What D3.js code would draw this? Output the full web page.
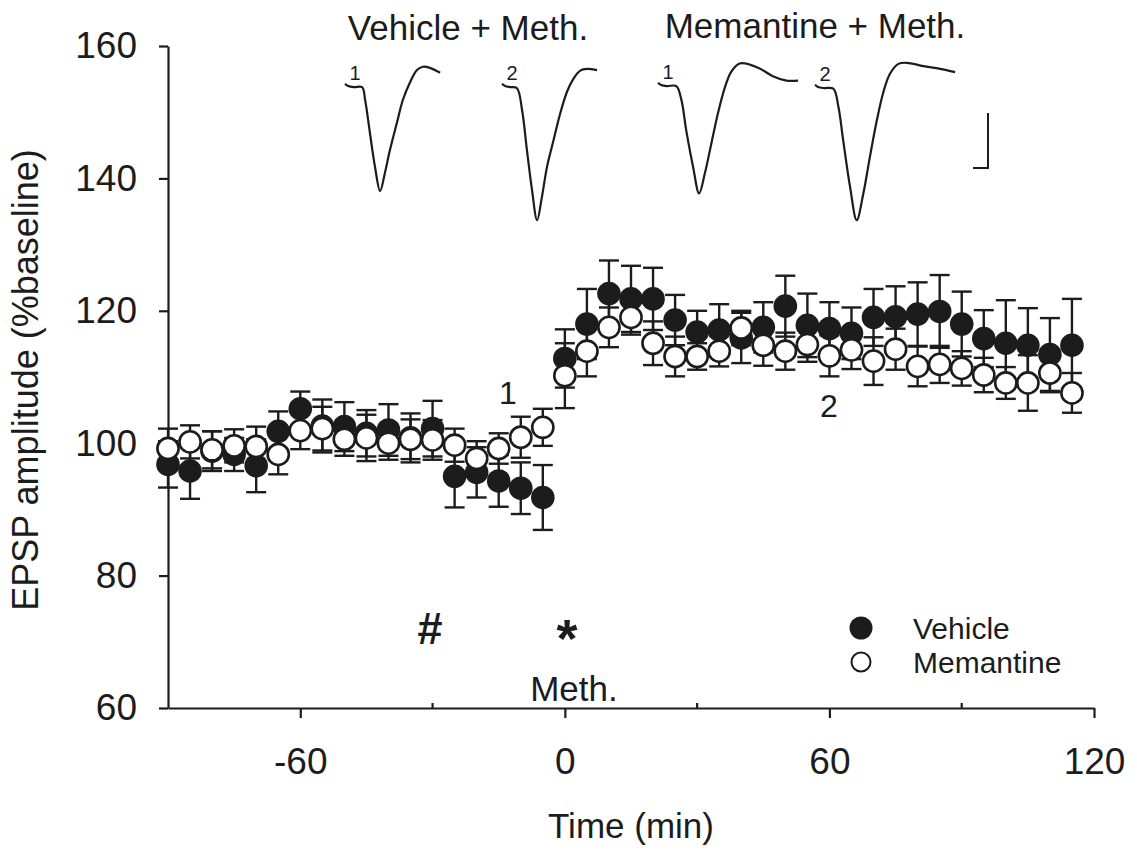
<!DOCTYPE html>
<html>
<head>
<meta charset="utf-8">
<script src="https://cdn.jsdelivr.net/npm/d3@7"></script>
<style>
  html, body { margin: 0; padding: 0; background: #fff; }
  svg { display: block; }
  text { font-family: "Liberation Sans", Arial, sans-serif; fill: #1c1c1c; }
</style>
</head>
<body>
<svg id="chart" width="1137" height="852"></svg>
<script>
// time points (min)
const times = [-90, -85, -80, -75, -70, -65, -60, -55, -50, -45, -40, -35, -30, -25, -20, -15, -10, -5,
  0, 5, 10, 15, 20, 25, 30, 35, 40, 45, 50, 55, 60, 65, 70, 75, 80, 85, 90, 95, 100, 105, 110, 115];

const vehicleMean = [96.8, 95.8, 98.8, 98.3, 96.6, 101.8, 105.2, 102.6, 102.5, 101.5, 102.0, 100.8, 102.2, 95.0, 95.6, 94.3, 93.2, 91.8,
  112.8, 118.0, 122.6, 121.8, 121.8, 118.6, 116.8, 117.1, 115.9, 117.5, 120.7, 117.8, 117.3, 116.6, 119.0, 119.1, 119.5, 119.9, 118.0, 115.8, 115.1, 114.8, 113.4, 114.8];
const vehicleSem = [3.5, 4.2, 3.0, 2.5, 4.0, 3.0, 2.6, 4.0, 3.7, 3.5, 3.9, 3.7, 4.2, 4.7, 3.8, 3.9, 3.9, 4.9,
  4.4, 5.3, 5.0, 5.0, 4.7, 3.8, 3.2, 3.9, 3.8, 3.8, 4.6, 4.8, 4.0, 3.9, 4.3, 4.6, 4.8, 5.5, 4.9, 4.3, 6.5, 5.6, 5.5, 7.0];

const memantineMean = [99.2, 100.2, 99.0, 99.6, 99.5, 98.3, 101.9, 102.2, 100.6, 100.8, 100.0, 100.6, 100.5, 99.7, 97.7, 99.2, 100.9, 102.4,
  110.2, 113.9, 117.5, 119.0, 115.1, 113.1, 113.1, 113.9, 117.4, 114.8, 113.9, 114.9, 113.2, 114.1, 112.4, 114.2, 111.6, 111.9, 111.3, 110.3, 109.1, 109.1, 110.6, 107.6];
const memantineSem = [3.0, 2.5, 2.8, 2.5, 3.0, 3.0, 2.8, 3.3, 2.5, 3.5, 2.5, 3.0, 3.0, 2.5, 2.6, 2.3, 3.1, 2.8,
  4.9, 3.8, 3.0, 2.6, 3.3, 3.0, 2.0, 2.3, 2.6, 3.1, 2.8, 2.6, 3.1, 2.9, 3.6, 3.1, 3.0, 2.8, 2.6, 2.6, 2.4, 4.2, 2.9, 3.0];

const yTicks = [60, 80, 100, 120, 140, 160];
const xMajorTicks = [-60, 0, 60, 120];
const xMinorTicks = [-30, 30, 90];

// inset EPSP traces, [ms, mV]
const traceVeh1 = [[0, 0.04], [1, 0], [3, -0.02], [5.7, -0.02], [6.7, -0.25], [8.3, -0.85], [10, -1.47], [11.7, -1.91], [13.3, -1.58],
  [15, -1.16], [17.3, -0.67], [19.3, -0.25], [21.7, 0.07], [24, 0.29], [26, 0.35], [28.3, 0.33], [31.7, 0.24]];
const traceVeh2 = [[0, 0.04], [1, 0], [3, -0.02], [5, -0.04], [6.7, -0.44], [8.3, -1.16], [10, -1.89], [11.7, -2.44], [13.3, -2.02],
  [15, -1.47], [17.2, -0.98], [19.4, -0.5], [21.7, -0.1], [23.9, 0.14], [26.1, 0.28], [28.3, 0.31], [31.7, 0.29]];
const traceMem1 = [[0, 0.04], [1, 0], [3, -0.02], [6.1, -0.02], [7.8, -0.27], [9.4, -0.82], [11.7, -1.49], [13.7, -1.97], [15.6, -1.61],
  [17.8, -1.06], [20, -0.51], [22.2, -0.06], [24.4, 0.24], [27.2, 0.39], [29.4, 0.39], [33.9, 0.3], [38.3, 0.16], [42.8, 0.08], [46.7, 0.08]];
const traceMem2 = [[0, 0.04], [1, 0], [3, -0.02], [6.1, -0.03], [7.8, -0.36], [9.4, -0.97], [11.7, -1.82], [13.9, -2.42], [16.1, -1.94],
  [18.3, -1.27], [20.6, -0.61], [22.8, -0.09], [25, 0.24], [27.8, 0.42], [30.6, 0.44], [36.1, 0.38], [41.7, 0.33], [46.7, 0.27]];
const traceLabels = ["1", "2", "1", "2"];

const ink = "#1c1c1c";
const svg = d3.select("#chart");

const x = d3.scaleLinear().domain([-90, 120]).range([168, 1094]);
const y = d3.scaleLinear().domain([60, 160]).range([708, 46]);

// axes
const yAxis = svg.append("g")
  .attr("transform", `translate(${x(-90)},0)`)
  .call(d3.axisLeft(y).tickValues(yTicks).tickSize(9).tickSizeOuter(0).tickPadding(22));
yAxis.select(".domain").attr("stroke", ink).attr("stroke-width", 2.2);
yAxis.selectAll(".tick line").attr("stroke", ink).attr("stroke-width", 2.2);
yAxis.selectAll(".tick text").attr("font-size", 37).attr("fill", ink)
  .style("font-family", '"Liberation Sans", Arial, sans-serif');

const xAxis = svg.append("g")
  .attr("transform", `translate(0,${y(60)})`)
  .call(d3.axisBottom(x).tickValues(xMajorTicks).tickFormat(d => String(d))
    .tickSize(10).tickSizeOuter(0).tickPadding(30));
xAxis.select(".domain").attr("stroke", ink).attr("stroke-width", 2.2);
xAxis.selectAll(".tick line").attr("stroke", ink).attr("stroke-width", 2.2);
xAxis.selectAll(".tick text").attr("font-size", 37).attr("fill", ink)
  .style("font-family", '"Liberation Sans", Arial, sans-serif');

svg.append("g").selectAll("line").data(xMinorTicks).join("line")
  .attr("x1", d => x(d)).attr("x2", d => x(d))
  .attr("y1", y(60)).attr("y2", y(60) - 5)
  .attr("stroke", ink).attr("stroke-width", 2.2);

svg.append("text")
  .attr("transform", "translate(38,380) rotate(-90)")
  .attr("text-anchor", "middle").attr("font-size", 36)
  .text("EPSP amplitude (%baseline)");

svg.append("text")
  .attr("x", (x(-90) + x(120)) / 2).attr("y", 838)
  .attr("text-anchor", "middle").attr("font-size", 35)
  .text("Time (min)");

// series
const r = 11.8, cap = 10;
function drawSeries(means, sems, filled) {
  const g = svg.append("g");
  const pts = times.map((t, i) => ({ t, m: means[i], s: sems[i] }));
  const bars = g.selectAll("g.bar").data(pts).join("g").attr("class", "bar")
    .attr("stroke", ink).attr("stroke-width", 2.4);
  bars.append("line")
    .attr("x1", d => x(d.t)).attr("x2", d => x(d.t))
    .attr("y1", d => y(d.m - d.s)).attr("y2", d => y(d.m + d.s));
  bars.append("line")
    .attr("x1", d => x(d.t) - cap).attr("x2", d => x(d.t) + cap)
    .attr("y1", d => y(d.m + d.s)).attr("y2", d => y(d.m + d.s));
  bars.append("line")
    .attr("x1", d => x(d.t) - cap).attr("x2", d => x(d.t) + cap)
    .attr("y1", d => y(d.m - d.s)).attr("y2", d => y(d.m - d.s));
  g.selectAll("circle").data(pts).join("circle")
    .attr("cx", d => x(d.t)).attr("cy", d => y(d.m))
    .attr("r", filled ? r : r - 1.2)
    .attr("fill", filled ? ink : "#fff")
    .attr("stroke", ink).attr("stroke-width", filled ? 0 : 2.6);
}
drawSeries(vehicleMean, vehicleSem, true);
drawSeries(memantineMean, memantineSem, false);

// annotations
svg.append("text").attr("x", 508).attr("y", 404).attr("text-anchor", "middle").attr("font-size", 32).text("1");
svg.append("text").attr("x", 829).attr("y", 417).attr("text-anchor", "middle").attr("font-size", 32).text("2");
svg.append("text").attr("x", 430).attr("y", 644).attr("text-anchor", "middle").attr("font-size", 45).attr("font-weight", "bold").text("#");
svg.append("text").attr("x", 567).attr("y", 657).attr("text-anchor", "middle").attr("font-size", 54).attr("font-weight", "bold").text("*");
svg.append("text").attr("x", 574).attr("y", 701).attr("text-anchor", "middle").attr("font-size", 35).text("Meth.");

// legend
const legend = svg.append("g").attr("transform", "translate(861,0)");
legend.append("circle").attr("cx", 0).attr("cy", 628).attr("r", 11.5).attr("fill", ink);
legend.append("circle").attr("cx", 0).attr("cy", 662).attr("r", 9.5).attr("fill", "#fff").attr("stroke", ink).attr("stroke-width", 2);
legend.append("text").attr("x", 52).attr("y", 639).attr("font-size", 30).text("Vehicle");
legend.append("text").attr("x", 52).attr("y", 673).attr("font-size", 30).text("Memantine");

// titles over traces
svg.append("text").attr("x", 468).attr("y", 40).attr("text-anchor", "middle").attr("font-size", 35).text("Vehicle + Meth.");
svg.append("text").attr("x", 815).attr("y", 38).attr("text-anchor", "middle").attr("font-size", 35).text("Memantine + Meth.");

// inset traces: 3 px per ms, 55 px per mV
const tx = d3.scaleLinear().domain([0, 1]).range([0, 3]);
const ty = d3.scaleLinear().domain([0, -1]).range([0, 55]);
const traceLine = d3.line().x(d => tx(d[0])).y(d => ty(d[1])).curve(d3.curveCatmullRom);
const traceOrigins = [[345, 86], [502, 86], [658, 85], [815, 87]];
[traceVeh1, traceVeh2, traceMem1, traceMem2].forEach((tr, i) => {
  const g = svg.append("g").attr("transform", `translate(${traceOrigins[i][0]},${traceOrigins[i][1]})`);
  g.append("path").attr("d", traceLine(tr)).attr("fill", "none").attr("stroke", ink).attr("stroke-width", 2.2);
  g.append("text").attr("x", 10).attr("y", -6).attr("text-anchor", "middle").attr("font-size", 20).text(traceLabels[i]);
});

// scale bar: 1 mV, 5 ms
const sb = svg.append("g").attr("transform", "translate(988,168)");
sb.append("path").attr("d", `M${-tx(5)},0H0V${ty(1)}`).attr("fill", "none").attr("stroke", ink).attr("stroke-width", 2);
</script>
</body>
</html>
